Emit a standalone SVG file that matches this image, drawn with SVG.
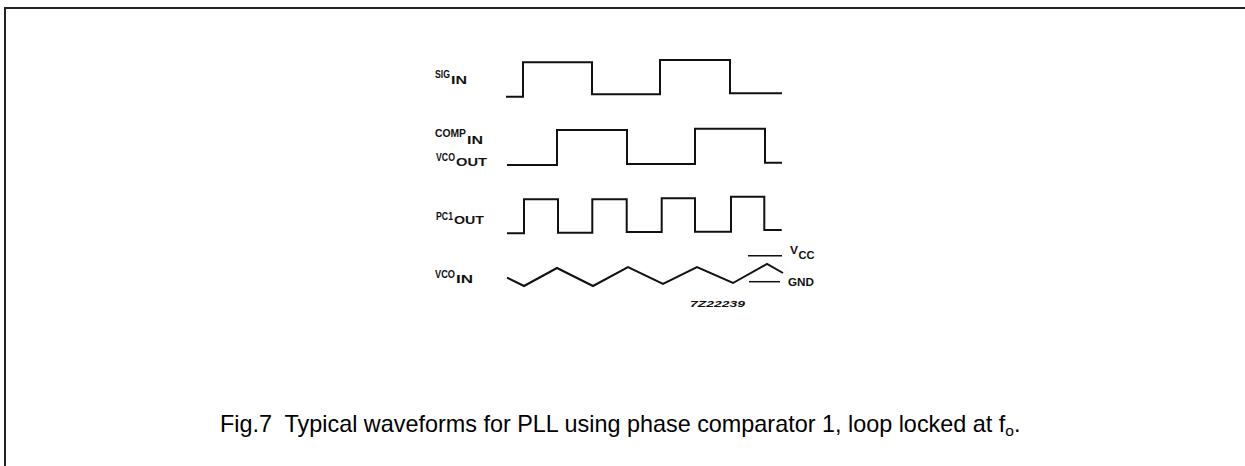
<svg xmlns="http://www.w3.org/2000/svg" width="1245" height="466" viewBox="0 0 1245 466">
<style>
.wave{fill:none;stroke:#111;stroke-width:2;stroke-linejoin:miter}
.ref{fill:none;stroke:#111;stroke-width:1.5}
.lbl{font-family:"Liberation Sans",Arial,sans-serif;font-weight:bold;fill:#111}
.m{font-size:10px}
.s{font-size:11px}
.cap{font-family:"Liberation Sans",Arial,sans-serif;font-size:23.4px;fill:#000}
</style>
<rect width="1245" height="466" fill="#fff"/>
<g id="frame">
<path d="M5,466 V8 H1245" fill="none" stroke="#222" stroke-width="2"/>
</g>
<g id="connectors">
<path id="sig-in-wave" class="wave" d="M506,96.7 H523 V62.3 H592 V94.3 H660 V60 H730 V93.3 H782"/>
<path id="comp-in-wave" class="wave" d="M507,165 H557 V130 H627 V164 H695 V128.7 H765 V162.7 H782"/>
<path id="pc1-out-wave" class="wave" d="M507,233.3 H524 V199.3 H558 V232.7 H592.3 V199.3 H626.7 V232 H661.7 V198.3 H695 V231.7 H731 V196.7 H764.3 V230 H781.7"/>
<path id="vco-in-wave" class="wave" d="M507,277.7 L524,286 L557,268 L593,286 L628,267 L663,284 L697,267 L733,283 L767,264 L783,273"/>
<path id="vcc-line" class="ref" d="M748,255.7 H782"/>
<path id="gnd-line" class="ref" d="M749,281.7 H780"/>
</g>
<g id="sig-in">
<text class="lbl m" x="435" y="78.3" textLength="15" lengthAdjust="spacingAndGlyphs">SIG</text>
<text class="lbl s" x="451" y="83.5" textLength="16" lengthAdjust="spacingAndGlyphs">IN</text>
</g>
<g id="comp-in">
<text class="lbl m" x="435" y="136.5" textLength="31" lengthAdjust="spacingAndGlyphs">COMP</text>
<text class="lbl s" x="467" y="144.3" textLength="16" lengthAdjust="spacingAndGlyphs">IN</text>
</g>
<g id="vco-out">
<text class="lbl m" x="436" y="160.5" textLength="19" lengthAdjust="spacingAndGlyphs">VCO</text>
<text class="lbl s" x="456" y="165.7" textLength="31" lengthAdjust="spacingAndGlyphs">OUT</text>
</g>
<g id="pc1-out">
<text class="lbl m" x="436" y="220" textLength="17" lengthAdjust="spacingAndGlyphs">PC1</text>
<text class="lbl s" x="454" y="224" textLength="30" lengthAdjust="spacingAndGlyphs">OUT</text>
</g>
<g id="vco-in">
<text class="lbl m" x="435" y="277.5" textLength="20" lengthAdjust="spacingAndGlyphs">VCO</text>
<text class="lbl s" x="456" y="283.3" textLength="17" lengthAdjust="spacingAndGlyphs">IN</text>
</g>
<g id="vcc">
<text class="lbl m" x="790" y="254" textLength="8" lengthAdjust="spacingAndGlyphs">V</text>
<text class="lbl s" x="798.5" y="259.3" textLength="16" lengthAdjust="spacingAndGlyphs">CC</text>
</g>
<g id="gnd">
<text class="lbl s" x="788" y="285.5" textLength="26" lengthAdjust="spacingAndGlyphs">GND</text>
</g>
<g id="fig-code">
<text class="lbl" x="690" y="307" font-size="9" font-style="italic" textLength="55" lengthAdjust="spacingAndGlyphs">7Z22239</text>
</g>
<g id="caption">
<text class="cap" x="220" y="431.5" xml:space="preserve">Fig.7  Typical waveforms for PLL using phase comparator 1, loop locked at f<tspan font-size="15.5" dy="4.5">o</tspan><tspan dy="-4.5">.</tspan></text>
</g>
</svg>
